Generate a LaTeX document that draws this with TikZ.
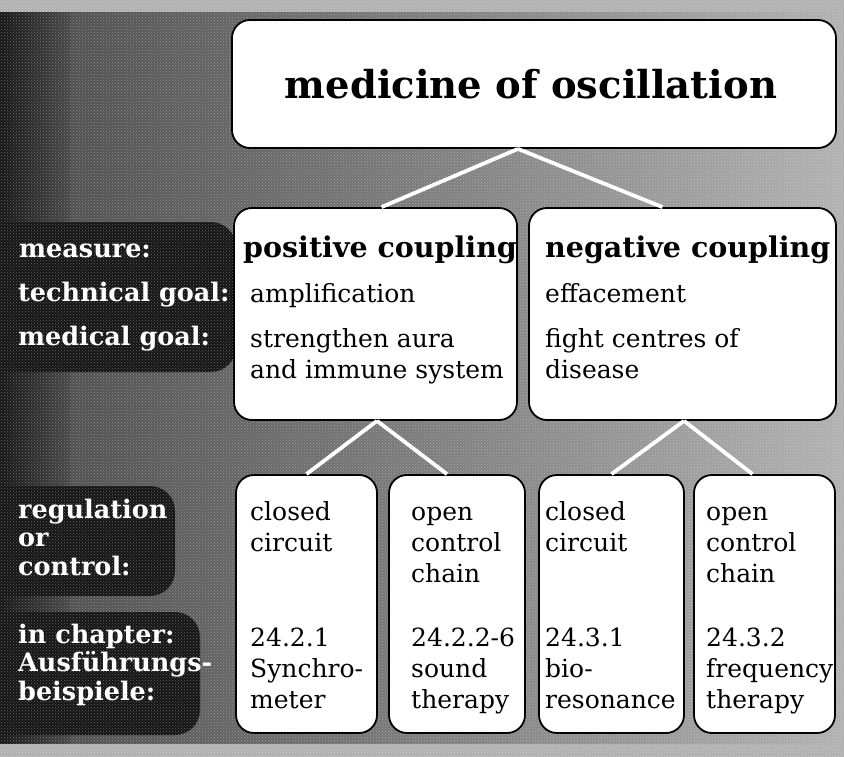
\documentclass[tikz,border=0pt]{standalone}
\usepackage{fontspec}
\setmainfont{DejaVu Serif}
\usetikzlibrary{positioning,calc,patterns}
\definecolor{Scan}{HTML}{8E8E8E}
\definecolor{ScanLight}{HTML}{B0B0B0}
\definecolor{ScanDark}{HTML}{151515}

\begin{document}
\begin{tikzpicture}[x=1pt,y=-1pt,
  box/.style={draw=black,line width=1.8pt,fill=white,rounded corners=18pt,inner sep=0pt},
  link/.style={white,line width=3.8pt},
  txt/.style={anchor=base west,inner sep=0pt,align=left,font=\fontsize{25}{31}\selectfont},
  head/.style={anchor=base west,inner sep=0pt,font=\bfseries\fontsize{28.5}{32}\selectfont},
  lab/.style={anchor=base west,inner sep=0pt,align=left,text=white,font=\bfseries\fontsize{25.5}{28.5}\selectfont}]
\useasboundingbox (0,0) rectangle (844,757);
% scanned background
\shade[left color=Scan!50!black,right color=ScanLight] (0,0) rectangle (844,757);
\shade[left color=ScanDark,right color=Scan!50!black] (0,0) rectangle (70,757);
\fill[ScanDark,rounded corners=25pt] (-30,222) rectangle (236,372);
\fill[ScanDark,rounded corners=25pt] (-30,486) rectangle (175,596);
\fill[ScanDark,rounded corners=25pt] (-30,612) rectangle (200,735);
\fill[ScanLight] (0,0) rectangle (844,12);
\fill[ScanLight] (0,744) rectangle (844,757);
\fill[pattern=crosshatch dots,pattern color=white,opacity=.35] (0,0) rectangle (844,757);
% boxes
\node[box,minimum width=604pt,minimum height=128pt] (top) at (534,84) {};
\node[box,minimum width=283pt,minimum height=212pt] (pos) at (375.5,314) {};
\node[box,minimum width=307pt,minimum height=212pt] (neg) at (682.5,314) {};
\foreach \n/\cx/\w in {cc1/306.5/141,oc1/457/136,cc2/611.5/145,oc2/764.5/141}
  \node[box,minimum width=\w pt,minimum height=258pt] (\n) at (\cx,604) {};
% connectors
\draw[link] ([xshift=-16pt]top.south) -- ([xshift=6pt]pos.north);
\draw[link] ([xshift=-16pt]top.south) -- ([xshift=-20pt]neg.north);
\draw[link] ([xshift=1.5pt]pos.south) -- (cc1.north);
\draw[link] ([xshift=1.5pt]pos.south) -- ([xshift=-10pt]oc1.north);
\draw[link] ([xshift=1.5pt]neg.south) -- (cc2.north);
\draw[link] ([xshift=1.5pt]neg.south) -- ([xshift=-12pt]oc2.north);
% texts (multi-line nodes sit on their last baseline)
\node[font=\bfseries\fontsize{38.5}{44}\selectfont] (title) at (531,84) {medicine of oscillation};
\node[head] (posH) at (243,257) {positive coupling};
\node[txt] (posT) at (250,302) {amplification};
\node[txt] (posM) at (250,378) {strengthen aura\\and immune system};
\node[head] (negH) at (545,257) {negative coupling};
\node[txt] (negT) at (545,302) {effacement};
\node[txt] (negM) at (545,378) {fight centres of\\disease};
\node[txt] (cc1a) at (250,551) {closed\\circuit};
\node[txt] (cc1b) at (250,708) {24.2.1\\Synchro-\\meter};
\node[txt] (oc1a) at (411,582) {open\\control\\chain};
\node[txt] (oc1b) at (411,708) {24.2.2-6\\sound\\therapy};
\node[txt] (cc2a) at (545,551) {closed\\circuit};
\node[txt] (cc2b) at (545,708) {24.3.1\\bio-\\resonance};
\node[txt] (oc2a) at (706,582) {open\\control\\chain};
\node[txt] (oc2b) at (706,708) {24.3.2\\frequency\\therapy};
% row labels
\node[lab] (lMeas) at (19,258) {measure:};
\node[lab] (lTech) at (18,301) {technical goal:};
\node[lab] (lMed) at (18,345) {medical goal:};
\node[lab] (lReg) at (18,575) {regulation\\or\\control:};
\node[lab] (lChap) at (18,700) {in chapter:\\Ausführungs-\\beispiele:};
\end{tikzpicture}
\end{document}
